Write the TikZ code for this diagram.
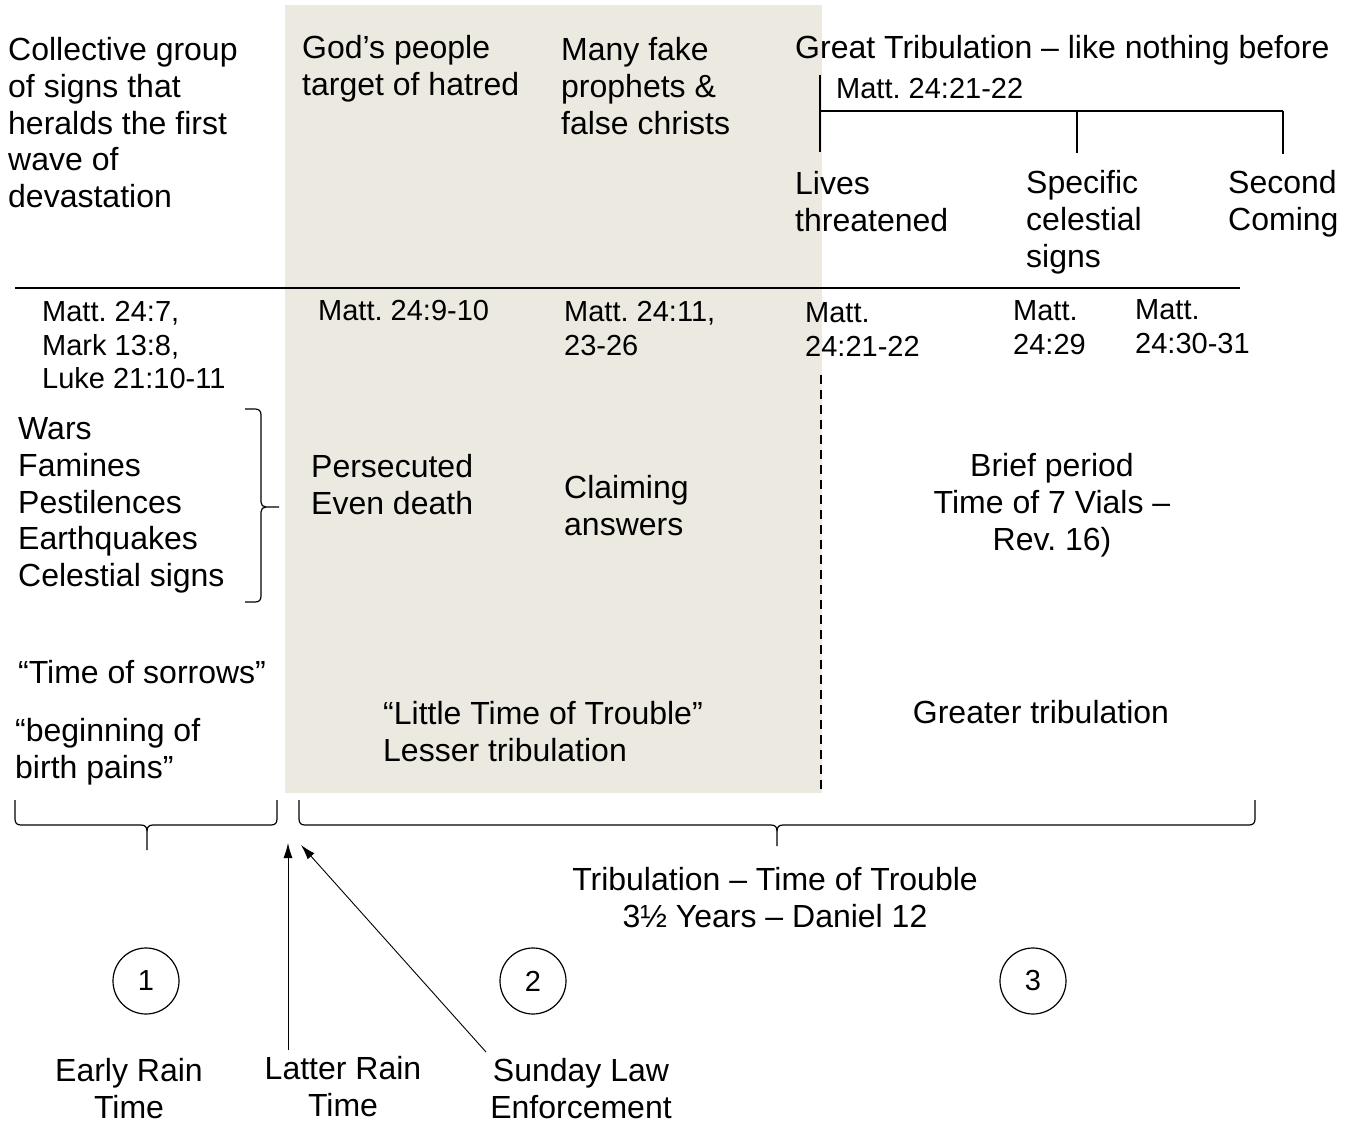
\documentclass[tikz,border=0pt]{standalone}
\usepackage{fontspec}
\setmainfont{Liberation Sans}
\usetikzlibrary{arrows.meta}
\definecolor{panelbg}{RGB}{236,233,224}
\frenchspacing
\begin{document}
\begin{tikzpicture}[x=1pt,y=-1pt,
  big/.style={font=\fontsize{32}{36.7}\selectfont, inner sep=0pt, anchor=north west, align=left},
  bigc/.style={big, anchor=north, align=center},
  small/.style={font=\fontsize{29}{33.5}\selectfont, inner sep=0pt, anchor=north west, align=left},
  rule/.style={line width=1.6pt},
  bracepath/.style={line width=1.2pt},
  num/.style={circle, draw, line width=1.2pt, minimum size=66pt, inner sep=0pt, font=\fontsize{29}{33.5}\selectfont},
  pointer/.style={line width=0.9pt, -{Latex[length=15pt,width=9pt]}}]
\useasboundingbox (0,0) rectangle (1353,1123);
\fill[panelbg] (285,5) rectangle (822,793);

% top row
\node[big] (collective) at (8,35) {\strut Collective group\\of signs that\\heralds the first\\wave of\\devastation};
\node[big] (gods) at (302,33) {\strut God’s people\\target of hatred};
\node[big] (fake) at (561,35) {\strut Many fake\\prophets \&\\false christs};
\node[big] (great) at (795,33) {\strut Great Tribulation – like nothing before};
\node[small] (gtref) at (836,75) {\strut Matt. 24:21-22};

% tree
\coordinate (t0) at (820,75);
\coordinate (t1) at (820,152);
\coordinate (h0) at (820,111);
\coordinate (h1) at (1077,111);
\coordinate (h2) at (1283,111);
\coordinate (v1) at (1077,153);
\coordinate (v2) at (1283,154);
\draw[rule] (t0) -- (t1);
\draw[rule] (h0) -- (h2);
\draw[rule] (h1) -- (v1);
\draw[rule] (h2) -- (v2);

\node[big] (lives) at (795,169) {\strut Lives\\threatened};
\node[big] (specific) at (1026,168) {\strut Specific\\celestial\\signs};
\node[big] (second) at (1228,168) {\strut Second\\Coming};

% main rule
\coordinate (r0) at (15,288);
\coordinate (r1) at (1240,288);
\draw[rule] (r0) -- (r1);

% references
\node[small] (ref1) at (42,298) {\strut Matt. 24:7,\\Mark 13:8,\\Luke 21:10-11};
\node[small] (ref2) at (318,297) {\strut Matt. 24:9-10};
\node[small] (ref3) at (564,298) {\strut Matt. 24:11,\\23-26};
\node[small] (ref4) at (805,299) {\strut Matt.\\24:21-22};
\node[small] (ref5) at (1013,297) {\strut Matt.\\24:29};
\node[small] (ref6) at (1135,296) {\strut Matt.\\24:30-31};

% dashed divider
\coordinate (d0) at (821,375);
\coordinate (d1) at (821,793);
\draw[line width=1.6pt, dash pattern=on 9pt off 6pt] (d0) -- (d1);

% middle row
\node[big] (wars) at (18,414) {\strut Wars\\Famines\\Pestilences\\Earthquakes\\Celestial signs};
\draw[bracepath] (245,409) -- (255,409) .. controls (259,409) and (261,411) .. (261,415) -- (261,502)
  .. controls (261,505) and (263,507) .. (266,507) -- (279,507);
\draw[bracepath] (266,507) .. controls (263,507) and (261,509) .. (261,512) -- (261,596)
  .. controls (261,600) and (259,602) .. (255,602) -- (245,602);
\node[big] (persecuted) at (311,452) {\strut Persecuted\\Even death};
\node[big] (claiming) at (564,473) {\strut Claiming\\answers};
\node[bigc] (brief) at (1052,451) {\strut Brief period\\Time of 7 Vials –\\Rev. 16)};

% lower row
\node[big] (sorrows) at (18,658) {\strut “Time of sorrows”};
\node[big] (birth) at (15,716) {\strut “beginning of\\birth pains”};
\node[big] (little) at (383,699) {\strut “Little Time of Trouble”\\Lesser tribulation};
\node[bigc] (greater) at (1041,698) {\strut Greater tribulation};

% bottom braces
\draw[bracepath] (15,800) -- (15,819) .. controls (15,823) and (17,825) .. (21,825) -- (141,825)
  .. controls (145,825) and (147,827) .. (147,831) -- (147,850);
\draw[bracepath] (147,831) .. controls (147,827) and (149,825) .. (153,825) -- (271,825)
  .. controls (275,825) and (277,823) .. (277,819) -- (277,800);
\draw[bracepath] (299,800) -- (299,819) .. controls (299,823) and (301,825) .. (305,825) -- (771,825)
  .. controls (775,825) and (777,827) .. (777,831) -- (777,846);
\draw[bracepath] (777,831) .. controls (777,827) and (779,825) .. (783,825) -- (1249,825)
  .. controls (1253,825) and (1255,823) .. (1255,819) -- (1255,800);

\node[bigc] (trib) at (775,865) {\strut Tribulation – Time of Trouble\\3½ Years – Daniel 12};

% numbered circles
\node[num] (c1) at (146,981) {1};
\node[num] (c2) at (533,981) {2};
\node[num] (c3) at (1033,981) {3};

% bottom labels
\node[bigc] (early) at (129,1056) {\strut Early Rain\\Time};
\node[bigc] (latter) at (343,1054) {\strut Latter Rain\\Time};
\node[bigc] (sunday) at (581,1056) {\strut Sunday Law\\Enforcement};

% arrows
\coordinate (la0) at (288,1050);
\coordinate (la1) at (288,843);
\coordinate (sa0) at (486,1052);
\coordinate (sa1) at (301,845);
\draw[pointer] (la0) -- (la1);
\draw[pointer] (sa0) -- (sa1);
\end{tikzpicture}
\end{document}
